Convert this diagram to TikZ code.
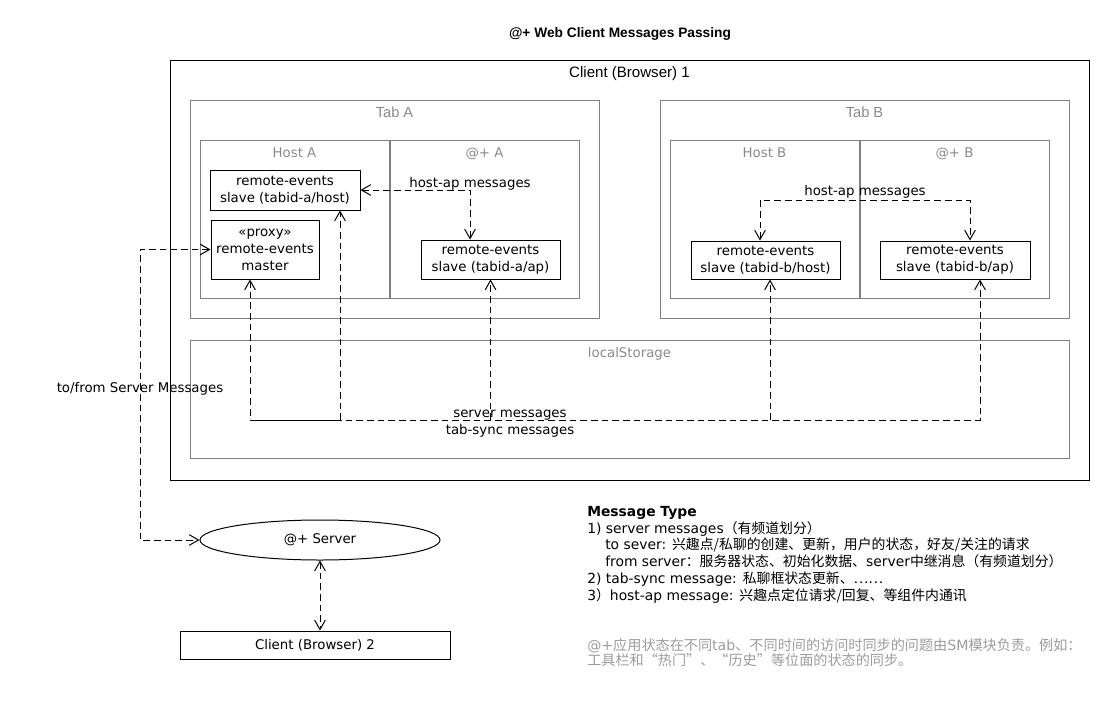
\documentclass[tikz,border=0pt]{standalone}
\usepackage{fontspec}
\setmainfont{DejaVu Sans}
\newfontfamily\narrowfont{Liberation Sans}
\newfontfamily\cjk{Noto Sans CJK SC}
\usetikzlibrary{arrows.meta,shapes.geometric,calc}
\definecolor{boxgray}{HTML}{808080}
\definecolor{labgray}{HTML}{8A8A8A}
\definecolor{notegray}{HTML}{9C9C9C}
\begin{document}
\begin{tikzpicture}[x=0.75pt,y=-0.75pt,
  every node/.style={font=\fontsize{10}{12.75}\selectfont, inner sep=0pt},
  cont/.style={draw=boxgray, line width=0.75pt, rectangle},
  outer/.style={draw=black, line width=0.75pt, rectangle},
  comp/.style={draw=black, line width=0.75pt, rectangle, align=center},
  contlab/.style={text=labgray, anchor=base},
  dsh/.style={line width=0.75pt, dash pattern=on 5pt off 3pt},
  >={Straight Barb[length=7pt,width=8pt]},
]
\useasboundingbox (0,0) rectangle (1110,700);

% title
\node[anchor=base] (title) at (620,37) {\narrowfont\bfseries\fontsize{10.3}{12}\selectfont @+ Web Client Messages Passing};

% containers
\node[outer, minimum width=689.25pt, minimum height=315pt] (client1) at (629.5,270) {};
\node[anchor=base] (client1lab) at (629.5,77) {\narrowfont\fontsize{11.3}{13}\selectfont Client (Browser) 1};

\node[cont, minimum width=306.75pt, minimum height=163.5pt] (tabA) at (394.5,209) {};
\node[contlab] (tabAlab) at (394.5,117) {\narrowfont\fontsize{11}{13}\selectfont Tab A};
\node[cont, minimum width=306.75pt, minimum height=163.5pt] (tabB) at (864.5,209) {};
\node[contlab] (tabBlab) at (864.5,117) {\narrowfont\fontsize{11}{13}\selectfont Tab B};

\node[cont, minimum width=141.75pt, minimum height=118.5pt] (hostA) at (294.5,219) {};
\node[contlab] (hostAlab) at (294.5,157) {Host A};
\node[cont, minimum width=141.75pt, minimum height=118.5pt] (apA) at (484.5,219) {};
\node[contlab] (apAlab) at (484.5,157) {@+ A};
\node[cont, minimum width=141.75pt, minimum height=118.5pt] (hostB) at (764.5,219) {};
\node[contlab] (hostBlab) at (764.5,157) {Host B};
\node[cont, minimum width=141.75pt, minimum height=118.5pt] (apB) at (954.5,219) {};
\node[contlab] (apBlab) at (954.5,157) {@+ B};

\node[cont, minimum width=659.25pt, minimum height=88.5pt] (local) at (629.5,399) {};
\node[contlab] (locallab) at (629.5,357) {localStorage};

% components
\node[comp, minimum width=112.5pt, minimum height=30pt] (slaveHA) at (285,190) {remote-events\\slave (tabid-a/host)};
\node[comp, minimum width=81pt, minimum height=44.25pt] (master) at (265,249.5) {«proxy»\\remote-events\\master};
\node[comp, minimum width=104.25pt, minimum height=29.25pt] (slaveAA) at (490.5,259.5) {remote-events\\slave (tabid-a/ap)};
\node[comp, minimum width=111.75pt, minimum height=28.5pt] (slaveHB) at (765.5,260) {remote-events\\slave (tabid-b/host)};
\node[comp, minimum width=112.5pt, minimum height=28.5pt] (slaveAB) at (955,260) {remote-events\\slave (tabid-b/ap)};

\node[draw, line width=0.75pt, ellipse, minimum width=180pt, minimum height=30pt] (server) at (320,540) {@+ Server};
\node[comp, minimum width=202.5pt, minimum height=21pt] (client2) at (315,645) {Client (Browser) 2};

% host-ap messages
\draw[dsh,<->] (slaveHA.east) -| ($(slaveAA.north)+(-20.5,0)$);
\node[anchor=base] (hapA) at (470,187) {host-ap messages};
\coordinate (hbL) at (760,200);
\coordinate (hbR) at (970,200);
\draw[dsh,<->] ($(slaveHB.north)+(-5.5,0)$) -- (hbL) -- (hbR) -- ($(slaveAB.north)+(15,0)$);
\node[anchor=base] (hapB) at (865,195) {host-ap messages};

% to/from server
\coordinate (c2) at (140,249.5);
\coordinate (c1) at (140,540);
\draw[dsh,<->] (master.west) -- (c2) -- (c1) -- (server.west);
\node[anchor=base] (tofrom) at (140,392) {to/from Server Messages};

% bus
\coordinate (busL) at (250,420);
\coordinate (busHA) at (340,420);
\coordinate (busAA) at (490.5,420);
\coordinate (busHB) at (770,420);
\coordinate (busR) at (980,420);
\draw[dsh,<->] ($(master.south)+(-15,0)$) -- (busL) -- (busR) -- ($(slaveAB.south)+(25,0)$);
\draw[dsh,->] (busHA) -- ($(slaveHA.south)+(55,0)$);
\draw[dsh,->] (busAA) -- (slaveAA.south);
\draw[dsh,->] (busHB) -- ($(slaveHB.south)+(4.5,0)$);
\draw[line width=0.75pt] (busL) -- (busHA);
\node[anchor=base] (srvmsg) at (510,417) {server messages};
\node[anchor=base] (tabsync) at (510,434) {tab-sync messages};

% server - client 2
\draw[dsh,<->] (server.south) -- (server.south |- client2.north);

% message types
\node[anchor=north west, align=left, font=\fontsize{10.4}{12.6}\selectfont] (msgtype) at (587,506) {%
\textbf{Message Type}\\
1) server messages{\cjk （有频道划分）}\\
\hspace*{13.5pt}to sever: {\cjk 兴趣点/私聊的创建、更新，用户的状态，好友/关注的请求}\\
\hspace*{13.5pt}from server{\cjk ：服务器状态、初始化数据、}server{\cjk 中继消息（有频道划分）}\\
2) tab-sync message: {\cjk 私聊框状态更新、……}\\
3{\cjk ）}host-ap message: {\cjk 兴趣点定位请求/回复、等组件内通讯}};

\node[anchor=north west, align=left, text=notegray, font=\fontsize{10.6}{11.25}\selectfont] (note) at (587,638) {%
@+{\cjk 应用状态在不同}tab{\cjk 、不同时间的访问时同步的问题由}SM{\cjk 模块负责。例如：}\\
{\cjk 工具栏和“热门”、“历史”等位面的状态的同步。}};
\end{tikzpicture}
\end{document}
